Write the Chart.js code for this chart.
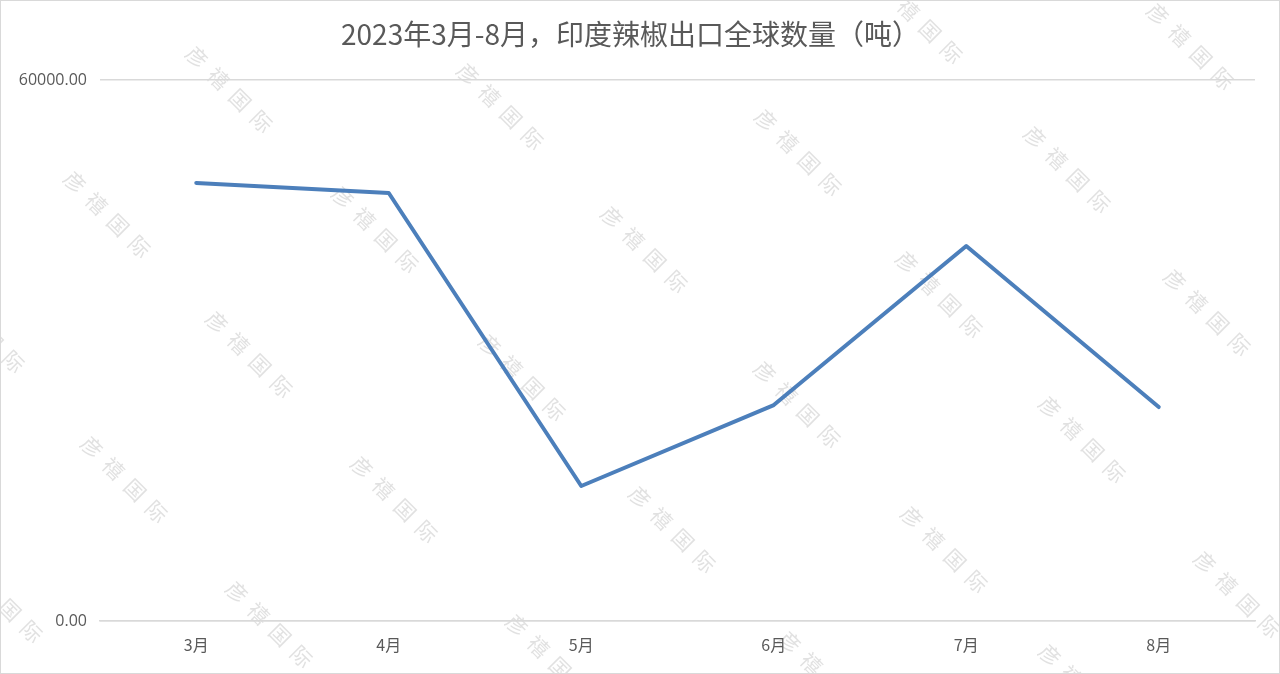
<!DOCTYPE html>
<html>
<head>
<meta charset="utf-8">
<script src="https://cdn.jsdelivr.net/npm/chart.js@4/dist/chart.umd.min.js"></script>
<style>
  html, body { margin: 0; padding: 0; background: #ffffff; }
  #wrap { width: 1280px; height: 674px; position: relative; }
</style>
</head>
<body>
<div id="wrap"><canvas id="c" width="1280" height="674"></canvas></div>
<script>
const titleText = '2023年3月-8月，印度辣椒出口全球数量（吨）';
const categories = ['3月', '4月', '5月', '6月', '7月', '8月'];
const seriesName = '数量（吨）';
const seriesValues = [48580, 47470, 14970, 23950, 41590, 23730];
const yTickValues = [0, 60000];
const watermarkText = '彦禧国际';
const watermarkStarts = [
  [197, 57], [75, 182], [1158, 14], [468, 74], [887, -12], [766, 120],
  [1035, 137], [343, 197], [612, 217], [907, 262], [1175, 280], [217, 322],
  [490, 345], [765, 372], [1050, 407], [92, 447], [362, 467], [640, 497],
  [912, 517], [237, 592], [517, 625], [790, 642], [1205, 562], [1050, 655],
  [-51, 297], [-33, 567]
];

const watermarkPlugin = {
  id: 'watermark',
  beforeDraw(chart) {
    const ctx = chart.ctx;
    ctx.save();
    ctx.fillStyle = '#ffffff';
    ctx.fillRect(0, 0, chart.width, chart.height);
    ctx.fillStyle = 'rgba(140,140,140,0.26)';
    ctx.font = '21px "Noto Sans CJK SC"';
    ctx.textAlign = 'center';
    ctx.textBaseline = 'middle';
    const chars = Array.from(watermarkText);
    watermarkStarts.forEach(([sx, sy]) => {
      chars.forEach((ch, i) => {
        ctx.save();
        ctx.translate(sx + i * 21.5, sy + i * 21.5);
        ctx.rotate(Math.PI / 4);
        ctx.fillText(ch, 0, 0);
        ctx.restore();
      });
    });
    ctx.restore();
  },
  afterDraw(chart) {
    const ctx = chart.ctx;
    ctx.save();
    ctx.strokeStyle = '#d9d9d9';
    ctx.lineWidth = 1;
    ctx.strokeRect(0.5, 0.5, chart.width - 1, chart.height - 1);
    ctx.restore();
  }
};

new Chart(document.getElementById('c'), {
  type: 'line',
  data: {
    labels: categories,
    datasets: [{
      label: seriesName,
      data: seriesValues,
      borderColor: '#4c7fbb',
      backgroundColor: '#4c7fbb',
      borderWidth: 4,
      pointRadius: 0,
      pointHoverRadius: 0,
      tension: 0,
      fill: false,
      borderCapStyle: 'round',
      borderJoinStyle: 'round'
    }]
  },
  options: {
    responsive: false,
    animation: false,
    devicePixelRatio: 1,
    layout: { padding: { left: 6, right: 25, top: 0, bottom: 0 } },
    plugins: {
      legend: { display: false },
      tooltip: { enabled: false },
      title: {
        display: true,
        text: titleText,
        color: '#595959',
        font: { family: '"Noto Sans CJK SC", "Open Sans", sans-serif', size: 28, weight: 'normal', lineHeight: 1.2 },
        padding: { top: 18, bottom: 28.4 }
      }
    },
    scales: {
      x: {
        type: 'category',
        offset: true,
        grid: { display: false, drawTicks: false },
        border: { display: true, color: '#d9d9d9', width: 1.5 },
        ticks: {
          color: '#595959',
          font: { family: '"Noto Sans CJK SC", "Open Sans", sans-serif', size: 16 },
          padding: 14,
          maxRotation: 0
        },
        afterFit(s) { s.height = 53; }
      },
      y: {
        min: 0,
        max: 60000,
        grid: { color: '#d9d9d9', lineWidth: 1.5, drawTicks: false },
        border: { display: false },
        afterBuildTicks(s) { s.ticks = yTickValues.map(v => ({ value: v })); },
        ticks: {
          color: '#595959',
          font: { family: '"Open Sans", "Noto Sans", sans-serif', size: 16 },
          padding: 13,
          callback: (v) => Number(v).toFixed(2)
        },
        afterFit(s) { s.width = 94; }
      }
    }
  },
  plugins: [watermarkPlugin]
});
</script>
</body>
</html>
